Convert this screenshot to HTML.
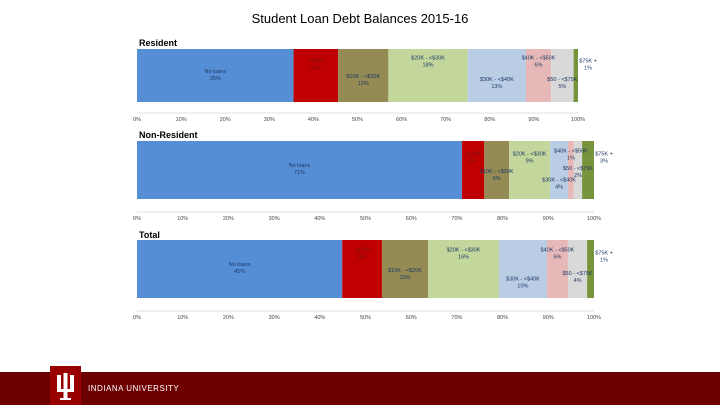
<!DOCTYPE html>
<html><head><meta charset="utf-8"><style>
body{margin:0;width:720px;height:405px;background:#fff;overflow:hidden;font-family:"Liberation Sans",sans-serif}
</style></head><body>
<svg width="720" height="405" xmlns="http://www.w3.org/2000/svg" id="svg">
<text x="360" y="23" text-anchor="middle" font-size="13" fill="#000">Student Loan Debt Balances 2015-16</text>
<g id="charts"></g>
<rect x="0" y="372" width="720" height="33" fill="#6d0000"/>
<rect x="50" y="366" width="31" height="39" fill="#990000"/>
<g fill="#fff">
<rect x="57" y="375" width="4" height="16"/><rect x="70" y="375" width="4" height="16"/><rect x="63.5" y="373" width="4" height="27"/>
<rect x="57" y="389" width="17" height="3"/><rect x="60" y="398" width="11" height="2"/>
</g>
<text x="88" y="391" font-size="8" fill="#fff" letter-spacing="0.5">INDIANA UNIVERSITY</text>
</svg>
<script>
const categories=["No loans","<$10K","$10K - <$20K","$20K - <$30K","$30K - <$40K","$40K - <$50K","$50 - <$75K","$75K +"];
const residentValues=[35.5,10.1,11.4,18,13.2,5.7,5.1,1];
const nonResidentValues=[71.1,4.9,5.4,9,3.9,1.3,1.8,2.6];
const totalValues=[44.9,8.7,10.1,15.5,10.5,4.6,4.2,1.5];
const residentLabels=["35%","10%","12%","18%","13%","6%","5%","1%"];
const nonResidentLabels=["71%","5%","5%","9%","4%","1%","2%","3%"];
const totalLabels=["45%","9%","10%","16%","10%","5%","4%","1%"];
const tickLabels=["0%","10%","20%","30%","40%","50%","60%","70%","80%","90%","100%"];
const colors=["#558ed5","#c00000","#948a54","#c3d69b","#b9cde5","#e6b9b8","#d9d9d9","#77933c"];
const NS="http://www.w3.org/2000/svg";
const root=document.getElementById('charts');
function mk(t,a,p){const e=document.createElementNS(NS,t);for(const k in a)e.setAttribute(k,a[k]);(p||root).appendChild(e);return e;}
const panels=[
 {title:"Resident",vals:residentValues,labs:residentLabels,x0:137,x1:578,top:49,bot:102,ty:46,ay:121,offs:[.45,.25,.55,.2,.6,.2,.6,.25]},
 {title:"Non-Resident",vals:nonResidentValues,labs:nonResidentLabels,x0:137,x1:594,top:141,bot:199,ty:138,ay:220,offs:[.45,.25,.55,.25,.7,.2,.5,.25]},
 {title:"Total",vals:totalValues,labs:totalLabels,x0:137,x1:594,top:240,bot:298,ty:238,ay:319,offs:[.45,.2,.55,.2,.7,.2,.6,.25]}
];
panels.forEach((p,pi)=>{
 const g=mk('g',{});
 
 
 const xs=v=>p.x0+(p.x1-p.x0)*v/100;
 const t=mk('text',{x:p.x0+2,y:p.ty,'font-size':9,'font-weight':'bold',fill:'#000'},g);t.textContent=p.title;
 
 
 const al=mk('line',{x1:p.x0,x2:p.x1,y1:p.ay-8,y2:p.ay-8,stroke:'#d9d9d9','stroke-width':0.7},g);
 
 
 tickLabels.forEach((l,i)=>{
  const tx=mk('text',{x:xs(i*10),y:p.ay,'font-size':5.5,fill:'#444','text-anchor':'middle'},g);tx.textContent=l;
  
  
 });
 let cum=0;const h=p.bot-p.top;
 p.vals.forEach((v,i)=>{
  const r=mk('rect',{x:xs(cum),y:p.top,width:xs(cum+v)-xs(cum),height:h,fill:colors[i]},g);
  
  
  cum+=v;
 });
 cum=0;
 p.vals.forEach((v,i)=>{
  let cx=(xs(cum)+xs(cum+v))/2;
  if(i===7){cx=xs(cum+v)+10;}
  const ly=p.top+h*p.offs[i];
  const tt=mk('text',{x:cx,y:ly,'font-size':5.5,fill:i===1?'#7a1010':'#1f3864','text-anchor':'middle'},g);
  const s1=mk('tspan',{x:cx},tt);s1.textContent=categories[i];
  const s2=mk('tspan',{x:cx,dy:7},tt);s2.textContent=p.labs[i];
  
  
  cum+=v;
 });
});
</script>
</body></html>
